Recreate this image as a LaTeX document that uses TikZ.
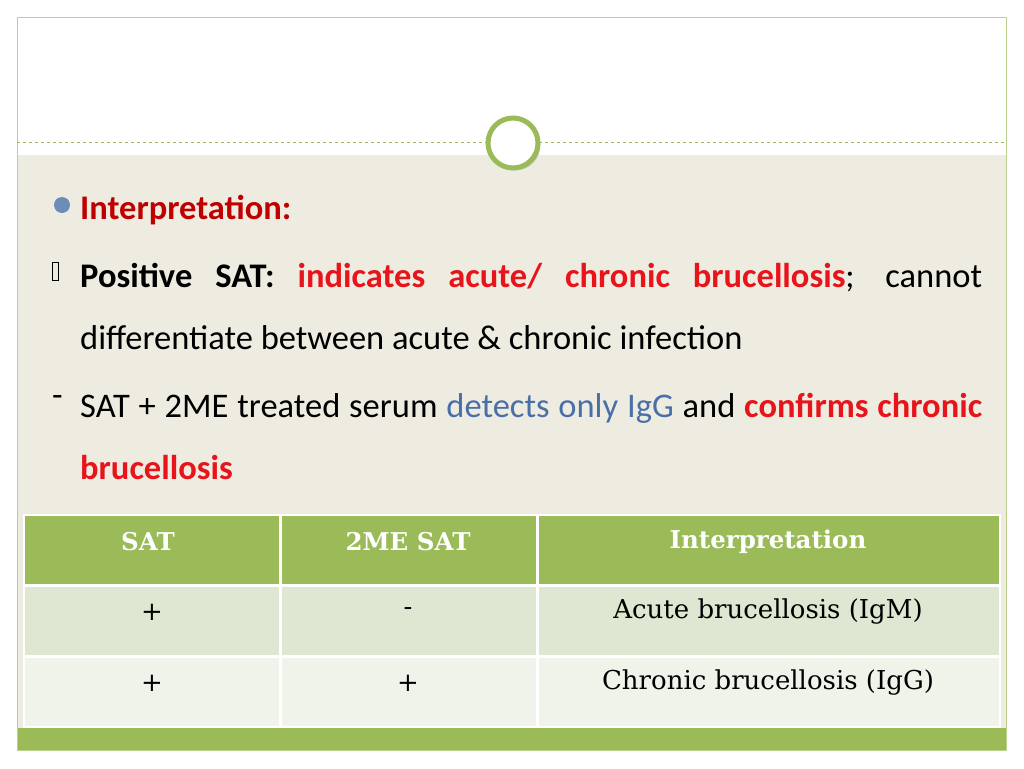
\documentclass[tikz,border=0pt]{standalone}
\usepackage{fontspec}
\setmainfont{Carlito}
\newfontfamily\tabfont{DejaVu Serif}
\usetikzlibrary{positioning,shadows}
\definecolor{olive}{HTML}{9BBB59}
\definecolor{beige}{HTML}{EEECE1}
\definecolor{darkred}{HTML}{C00000}
\definecolor{brightred}{HTML}{E8141B}
\definecolor{steel}{HTML}{4A6FA8}
\definecolor{rowa}{HTML}{DEE7D1}
\definecolor{rowb}{HTML}{EFF3EA}
\tikzset{
  body/.style={anchor=base west, font=\fontsize{34.5}{62}\selectfont, inner sep=0pt},
  celltext/.style={font=\tabfont\fontsize{26}{30}\selectfont}
}
\begin{document}
\begin{tikzpicture}[x=1pt,y=-1pt]
\useasboundingbox (0,0) rectangle (1024,768);
\fill[white] (0,0) rectangle (1024,768);
% slide background
\fill[beige] (17,155) rectangle (1006,728);
\fill[olive] (17,728) rectangle (1006,750);
\draw[olive!70, line width=0.8pt] (17,17) rectangle (1006,750);
\draw[olive, dashed, line width=0.6pt] (17,142) -- (1006,142);
\node[circle, fill=white, draw=olive, line width=5pt, minimum size=50pt, drop shadow={opacity=0.35}] (ring) at (513,143) {};
% bullets
\fill[steel!80!white] (62,205) circle (8);
\draw[black, line width=0.6pt] (52,262) rectangle (58,280);
\node[body] (dash) at (52,406) {-};
% text
\node[body, text=darkred] (title) at (80,219) {\textbf{Interpretation:}};
\node[body, anchor=north west, text width=902pt, align=justify] (pos) at (80,263)
  {\hyphenpenalty=10000 \textbf{Positive SAT:} \textcolor{brightred}{\textbf{indicates acute/ chronic brucellosis}}; cannot differentiate between acute \& chronic infection\par};
\node[body, anchor=north west, text width=902pt, align=justify] (sat) at (80,393)
  {\hyphenpenalty=10000 SAT + 2ME treated serum \textcolor{steel}{detects only IgG} and \textcolor{brightred}{\textbf{confirms chronic brucellosis}}\par};
% table
\fill[olive] (24,515) rectangle (1000,585);
\fill[rowa] (24,585) rectangle (1000,656);
\fill[rowb] (24,656) rectangle (1000,727);
\foreach \y in {585,656} \draw[white, line width=3pt] (24,\y) -- (1000,\y);
\foreach \x in {280,537} \draw[white, line width=3pt] (\x,515) -- (\x,727);
\draw[white, line width=2pt] (24,515) rectangle (1000,727);
\node[celltext, font=\tabfont\fontsize{24.5}{30}\selectfont, text=white] (h1) at (148,542) {\textbf{SAT}};
\node[celltext, font=\tabfont\fontsize{24.5}{30}\selectfont, text=white] (h2) at (408,542) {\textbf{2ME SAT}};
\node[celltext, font=\tabfont\fontsize{24.5}{30}\selectfont, text=white] (h3) at (768,542) {\textbf{Interpretation}};
\node[celltext] (a1) at (152,612) {+};
\node[celltext] (a2) at (408,612) {-};
\node[celltext] (a3) at (768,612) {Acute brucellosis (IgM)};
\node[celltext] (b1) at (152,683) {+};
\node[celltext] (b2) at (408,683) {+};
\node[celltext] (b3) at (768,683) {Chronic brucellosis (IgG)};
\end{tikzpicture}
\end{document}
